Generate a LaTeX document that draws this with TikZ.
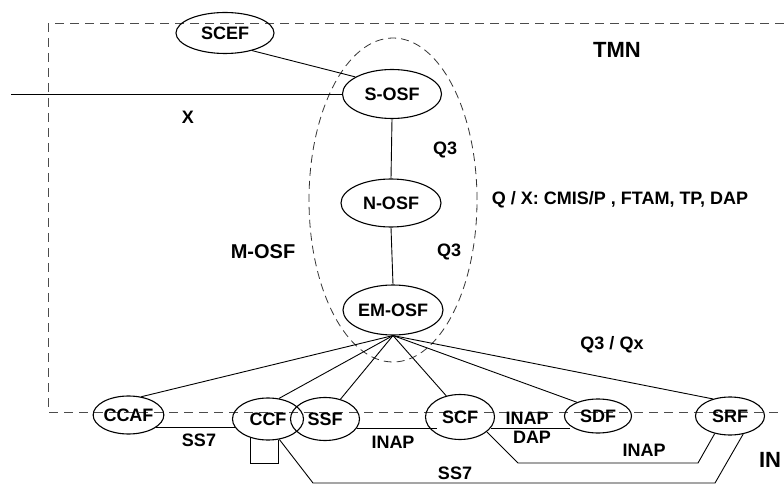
\documentclass[tikz,border=0pt]{standalone}
\usepackage{fontspec}
\setmainfont{Liberation Sans}
\usetikzlibrary{shapes.geometric}
\begin{document}
\begin{tikzpicture}[x=1pt,y=-1pt,
  fn/.style={ellipse,draw,line width=1.1pt,inner sep=0pt},
  lbl/.style={inner sep=0pt},
  big/.style={inner sep=0pt,font=\fontsize{22}{24}\selectfont\bfseries},
  conn/.style={line width=0.9pt},
  bdash/.style={draw=black!70,line width=1pt,dash pattern=on 9pt off 6pt},
  mdash/.style={draw=black!80,line width=0.8pt,dash pattern=on 8pt off 5pt},
  font=\fontsize{18}{20}\selectfont\bfseries]
\useasboundingbox (0,0) rectangle (784,486);
% TMN boundary
\coordinate (b1) at (784,24);
\coordinate (b2) at (48,24);
\coordinate (b3) at (48,412);
\coordinate (b4) at (784,412);
\draw[bdash] (b1) -- (b2) -- (b3) -- (b4);
% M-OSF boundary
\draw[mdash] (393,200) ellipse [x radius=84pt, y radius=162pt];
% nodes
\node[fn,minimum width=98pt,minimum height=41pt] (scef) at (225,33) {SCEF};
\node[fn,minimum width=99pt,minimum height=49pt] (sosf) at (392,94) {S-OSF};
\node[fn,minimum width=100pt,minimum height=48pt] (nosf) at (391,203) {N-OSF};
\node[fn,minimum width=100pt,minimum height=50pt] (em) at (393,310) {EM-OSF};
\node[fn,minimum width=69pt,minimum height=38pt] (ccaf) at (128.5,415) {CCAF};
\node[fn,minimum width=71pt,minimum height=42pt] (ccf) at (268,419) {CCF};
\node[fn,minimum width=69pt,minimum height=43pt] (ssf) at (325,419) {SSF};
\node[fn,minimum width=69pt,minimum height=45pt] (scf) at (460,417) {SCF};
\node[fn,minimum width=67pt,minimum height=34pt] (sdf) at (598,416) {SDF};
\node[fn,minimum width=69pt,minimum height=38pt] (srf) at (730,416) {SRF};
% connectors
\coordinate (xl) at (11,94);
\draw[conn] (xl) -- (sosf.west);
\draw[conn] (scef.327) -- (sosf.155);
\draw[conn] (sosf.south) -- (nosf.north);
\draw[conn] (nosf.south) -- (em.north);
\foreach \t/\a in {ccaf/55, ccf/62, ssf/52, scf/123, sdf/147, srf/135}
  \draw[conn] (em.south) -- (\t.\a);
\draw[conn] (ccaf.336) -- (ccaf.336 -| ccf.194);
\coordinate (lp) at (0,463);
\draw[conn] (ccf.227) -- (ccf.227 |- lp) -| (ccf.296);
\coordinate (s1) at (313,483);
\coordinate (s2) at (715,483);
\draw[conn] (ccf.299) -- (s1) -- (s2) -- (srf.306);
\coordinate (i1) at (437,428);
\draw[conn] (ssf.344) -- (ssf.344 -| i1);
\draw[conn] (scf.340) -- (scf.340 -| sdf.200);
\coordinate (i2) at (518,463);
\coordinate (i3) at (698,463);
\draw[conn] (scf.331) -- (i2) -- (i3) -- (srf.229);
% labels
\node[lbl] (lx) at (188,117) {X};
\node[big] (ltmn) at (617,50) {TMN};
\node[lbl] (lq3a) at (445,150) {Q3};
\node[lbl] (lqx) at (620,200) {Q / X: CMIS/P , FTAM, TP, DAP};
\node[lbl] (lq3b) at (449,252) {Q3};
\node[lbl,font=\fontsize{20}{22}\selectfont\bfseries] (lmosf) at (263,252) {M-OSF};
\node[lbl] (lq3qx) at (612,345) {Q3 / Qx};
\node[lbl] (lss7a) at (199,440) {SS7};
\node[lbl] (linap1) at (393,442) {INAP};
\node[lbl] (linap2) at (527,418) {INAP};
\node[lbl] (ldap) at (532,437) {DAP};
\node[lbl] (linap3) at (644,450) {INAP};
\node[lbl] (lss7b) at (455,473) {SS7};
\node[big] (lin) at (770,460) {IN};
\end{tikzpicture}
\end{document}
